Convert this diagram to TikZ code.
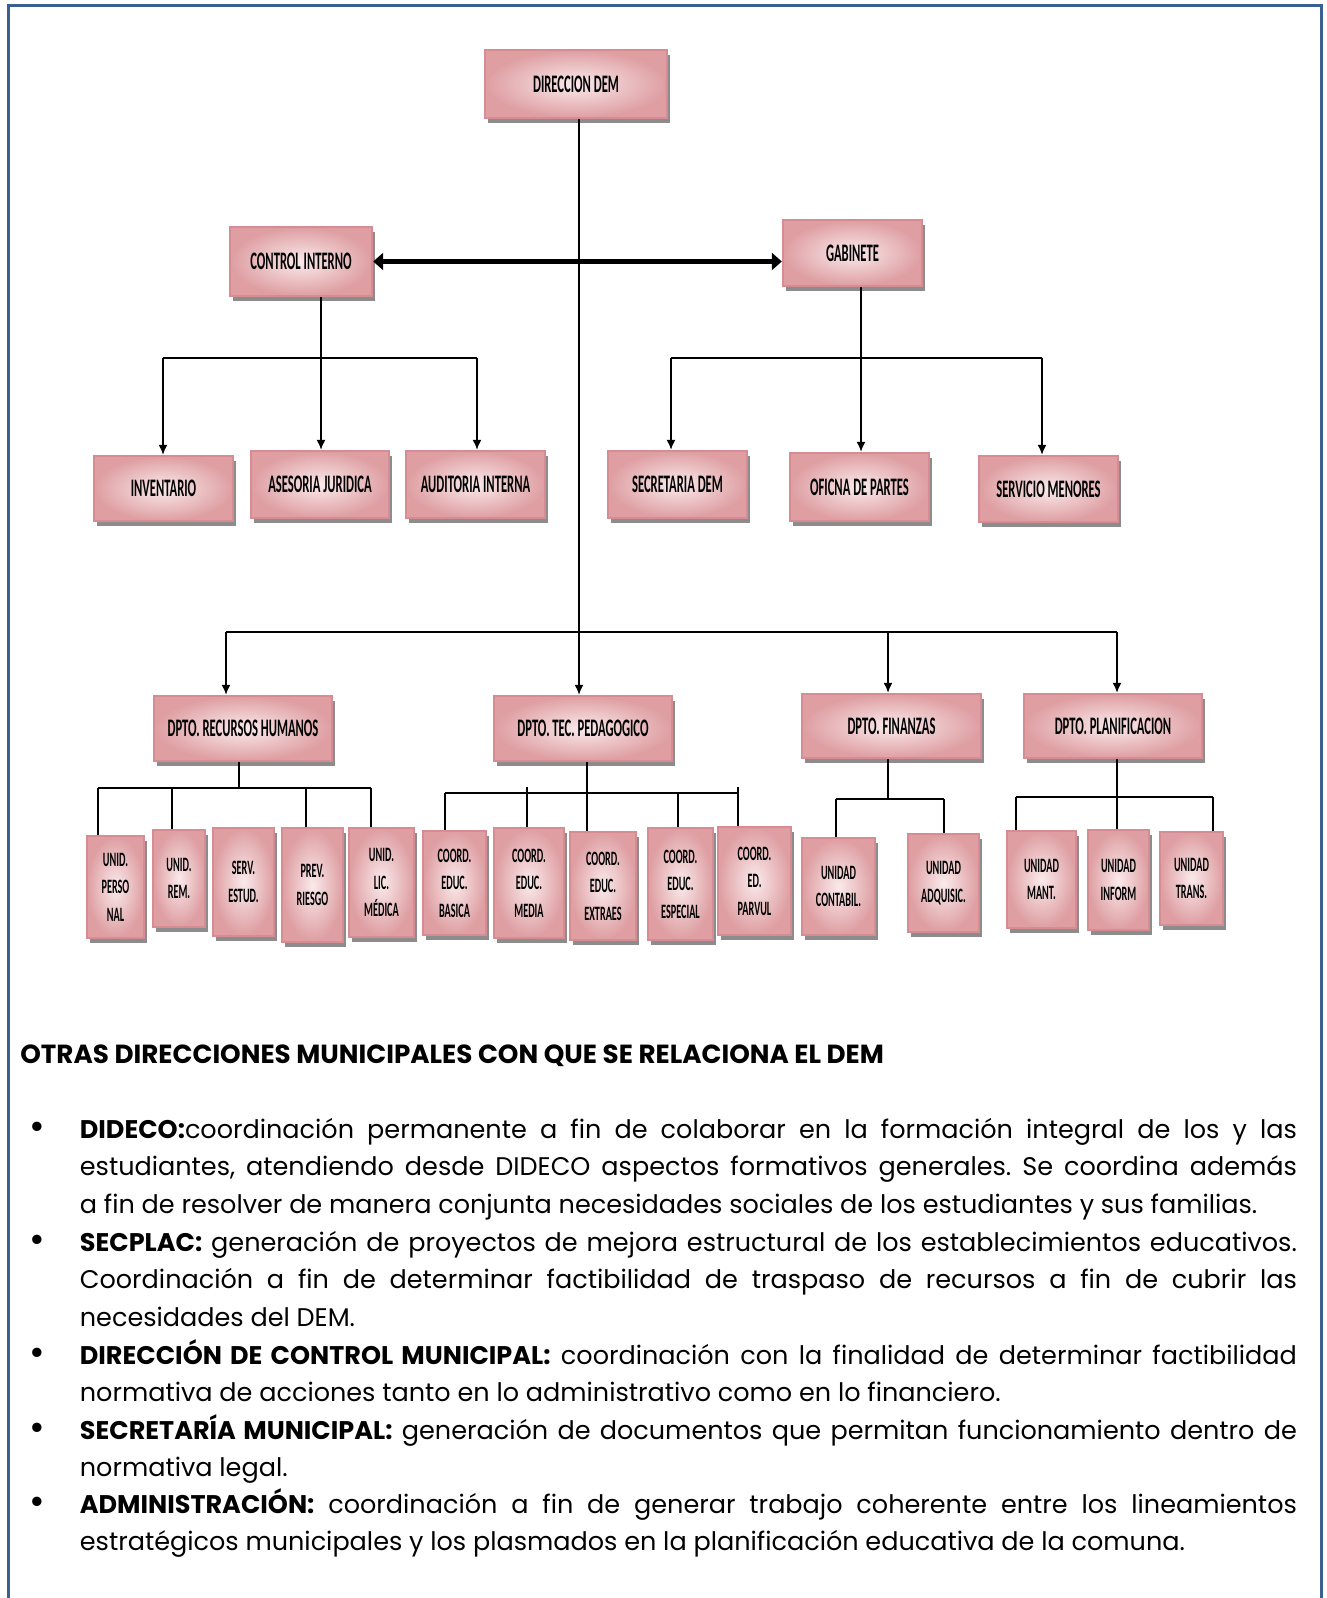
\documentclass[tikz,border=0pt]{standalone}
\usepackage{fontspec}
\setmainfont{Poppins}
\newfontfamily\boxfont{Carlito}[FakeStretch=0.5]
\usetikzlibrary{shadows,arrows.meta}
\frenchspacing
\definecolor{framec}{RGB}{58,95,145}
\definecolor{bordc}{RGB}{214,140,146}
\definecolor{pinkout}{RGB}{222,158,162}
\definecolor{pinkin}{RGB}{250,234,235}
\definecolor{shadc}{RGB}{140,140,140}
\tikzset{
  box/.style={draw=bordc, line width=1.2pt, inner color=pinkin, outer color=pinkout,
    drop shadow={shadow xshift=1.5pt, shadow yshift=-2.5pt, fill=shadc, opacity=1},
    inner sep=0pt, align=center, text=black},
  big/.style={font=\boxfont\bfseries\fontsize{12.6}{14}\selectfont},
  small/.style={font=\boxfont\bfseries\fontsize{10.2}{13.75}\selectfont},
  link/.style={line width=0.75pt, black},
  hlink/.style={line width=1.1pt, black},
  arr/.style={link, -{Latex[length=5pt,width=4.5pt]}},
  dbl/.style={line width=2.2pt, black, {Triangle[length=5pt,width=8.5pt]}-{Triangle[length=5pt,width=8.5pt]}},
  body/.style={font=\fontsize{12.75}{18.8}\selectfont, text width=608.5pt, align=justify, inner sep=0pt, anchor=base west},
  head/.style={font=\bfseries\fontsize{13.1}{18.8}\selectfont, inner sep=0pt, anchor=base west},
}
\newcommand\bx[7]{%
  \node[box,#1,minimum width={(#5-#3)*0.5pt},minimum height={(#6-#4)*0.5pt}] (#2) at ({(#3+#5)/2},{(#4+#6)/2}) {#7};}
\newcommand\bul{\llap{\makebox[25pt][l]{\raisebox{-0.5pt}{\fontsize{19}{19}\selectfont\textbullet}}}}
\begin{document}
\begin{tikzpicture}[x=0.5pt,y=-0.5pt]
\useasboundingbox (0,0) rectangle (1326,1598);
\fill[white] (0,0) rectangle (1326,1598);
\draw[framec, line width=1.5pt] (8.5,1598) -- (8.5,5.5) -- (1321,5.5) -- (1321,1598);

% junction coordinates
\coordinate (jm) at (579,632);
\coordinate (jmL) at (226,632);
\coordinate (jmF) at (888,632);
\coordinate (jmR) at (1117,632);
\coordinate (cj) at (321,358);
\coordinate (cjL) at (163,358);
\coordinate (cjR) at (477,358);
\coordinate (gj) at (861,358);
\coordinate (gjL) at (671,358);
\coordinate (gjR) at (1042,358);
\coordinate (rj) at (239,788);
\coordinate (rjL) at (98,788);
\coordinate (rjR) at (371,788);
\coordinate (ra) at (172,788);
\coordinate (rb) at (306,788);
\coordinate (tj) at (587,793);
\coordinate (tjL) at (445,793);
\coordinate (tjR) at (738,793);
\coordinate (ta) at (527,787);
\coordinate (tb) at (678,793);
\coordinate (tjRt) at (738,787);
\coordinate (fj) at (888,799);
\coordinate (fjL) at (836,799);
\coordinate (fjR) at (944,799);
\coordinate (pj) at (1117,797);
\coordinate (pjL) at (1016,797);
\coordinate (pjR) at (1213,797);

% main vertical drawn first (behind)
\bx{big}{dir}{485}{50}{667}{118}{DIRECCION DEM}
\draw[link] (jm |- dir.south) -- (jm);

% level 1
\bx{big}{ci}{230}{227}{372}{296}{CONTROL INTERNO}
\bx{big}{gab}{783}{220}{922}{286}{GABINETE}
\draw[dbl] (ci.east) -- (ci.east -| gab.west);

% level 2
\bx{big}{inv}{94}{456}{233}{521}{INVENTARIO}
\bx{big}{ases}{251}{451}{389}{518}{ASESORIA JURIDICA}
\bx{big}{aud}{406}{451}{545}{518}{AUDITORIA INTERNA}
\bx{big}{sec}{608}{451}{747}{518}{SECRETARIA DEM}
\bx{big}{ofi}{790}{453}{929}{521}{OFICNA DE PARTES}
\bx{big}{serv}{979}{456}{1118}{522}{SERVICIO MENORES}

\draw[link] (cj |- ci.south) -- (cj);
\draw[hlink] (cjL) -- (cjR);
\draw[arr] (cjL) -- (cjL |- inv.north);
\draw[arr] (cj) -- (cj |- ases.north);
\draw[arr] (cjR) -- (cjR |- aud.north);
\draw[link] (gj |- gab.south) -- (gj);
\draw[hlink] (gjL) -- (gjR);
\draw[arr] (gjL) -- (gjL |- sec.north);
\draw[arr] (gj) -- (gj |- ofi.north);
\draw[arr] (gjR) -- (gjR |- serv.north);

% departments
\bx{big}{rrhh}{154}{696}{332}{761}{DPTO. RECURSOS HUMANOS}
\bx{big}{tec}{494}{696}{672}{761}{DPTO. TEC. PEDAGOGICO}
\bx{big}{fin}{802}{694}{981}{758}{DPTO. FINANZAS}
\bx{big}{plan}{1024}{694}{1202}{758}{DPTO. PLANIFICACION}

\draw[hlink] (jmL) -- (jmR);
\draw[arr] (jmL) -- (jmL |- rrhh.north);
\draw[arr] (jm) -- (jm |- tec.north);
\draw[arr] (jmF) -- (jmF |- fin.north);
\draw[arr] (jmR) -- (jmR |- plan.north);

% units
\bx{small}{up}{87}{836}{144}{938}{UNID.\\PERSO\\NAL}
\bx{small}{ur}{153}{830}{205}{927}{UNID.\\REM.}
\bx{small}{se}{213}{828}{274}{936}{SERV.\\ESTUD.}
\bx{small}{pr}{282}{828}{343}{942}{PREV.\\RIESGO}
\bx{small}{ul}{349}{828}{414}{937}{UNID.\\LIC.\\MÉDICA}
\bx{small}{cb}{423}{831}{486}{935}{COORD.\\EDUC.\\BASICA}
\bx{small}{cm}{494}{828}{564}{938}{COORD.\\EDUC.\\MEDIA}
\bx{small}{cx}{570}{832}{636}{940}{COORD.\\EDUC.\\EXTRAES}
\bx{small}{ce}{648}{828}{713}{940}{COORD.\\EDUC.\\ESPECIAL}
\bx{small}{cp}{718}{827}{791}{935}{COORD.\\ED.\\PARVUL}
\bx{small}{uc}{802}{838}{875}{935}{UNIDAD\\CONTABIL.}
\bx{small}{ua}{908}{834}{979}{932}{UNIDAD\\ADQUISIC.}
\bx{small}{um}{1007}{831}{1076}{928}{UNIDAD\\MANT.}
\bx{small}{ui}{1088}{830}{1149}{930}{UNIDAD\\INFORM}
\bx{small}{ut}{1160}{832}{1223}{925}{UNIDAD\\TRANS.}

\draw[link] (rj |- rrhh.south) -- (rj);
\draw[hlink] (rjL) -- (rjR);
\draw[link] (rjL) -- (rjL |- up.north);
\draw[link] (ra) -- (ra |- ur.north);
\draw[link] (rb) -- (rb |- pr.north);
\draw[link] (rjR) -- (rjR |- ul.north);

\draw[link] (tj |- tec.south) -- (tj |- cx.north);
\draw[hlink] (tjL) -- (tjR);
\draw[link] (tjL) -- (tjL |- cb.north);
\draw[link] (ta) -- (ta |- cm.north);
\draw[link] (tb) -- (tb |- ce.north);
\draw[link] (tjRt) -- (tjRt |- cp.north);

\draw[link] (fj |- fin.south) -- (fj);
\draw[hlink] (fjL) -- (fjR);
\draw[link] (fjL) -- (fjL |- uc.north);
\draw[link] (fjR) -- (fjR |- ua.north);

\draw[link] (pj |- plan.south) -- (pj |- ui.north);
\draw[hlink] (pjL) -- (pjR);
\draw[link] (pjL) -- (pjL |- um.north);
\draw[link] (pjR) -- (pjR |- ut.north);

% text
\node[head] (hd) at (20,1063) {OTRAS DIRECCIONES MUNICIPALES CON QUE SE RELACIONA EL DEM};
\node[body] (b1) at (79.5,1138) {\bul\textbf{DIDECO:}coordinación permanente a fin de colaborar en la formación integral de los y las\linebreak estudiantes, atendiendo desde DIDECO aspectos formativos generales. Se coordina además\linebreak a fin de resolver de manera conjunta necesidades sociales de los estudiantes y sus familias.};
\node[body] (b2) at (79.5,1251) {\bul\textbf{SECPLAC:} generación de proyectos de mejora estructural de los establecimientos educativos.\linebreak Coordinación a fin de determinar factibilidad de traspaso de recursos a fin de cubrir las\linebreak necesidades del DEM.};
\node[body] (b3) at (79.5,1364) {\bul\textbf{DIRECCIÓN DE CONTROL MUNICIPAL:} coordinación con la finalidad de determinar factibilidad\linebreak normativa de acciones tanto en lo administrativo como en lo financiero.};
\node[body] (b4) at (79.5,1439) {\bul\textbf{SECRETARÍA MUNICIPAL:} generación de documentos que permitan funcionamiento dentro de\linebreak normativa legal.};
\node[body] (b5) at (79.5,1513) {\bul\textbf{ADMINISTRACIÓN:} coordinación a fin de generar trabajo coherente entre los lineamientos\linebreak estratégicos municipales y los plasmados en la planificación educativa de la comuna.};
\end{tikzpicture}
\end{document}
